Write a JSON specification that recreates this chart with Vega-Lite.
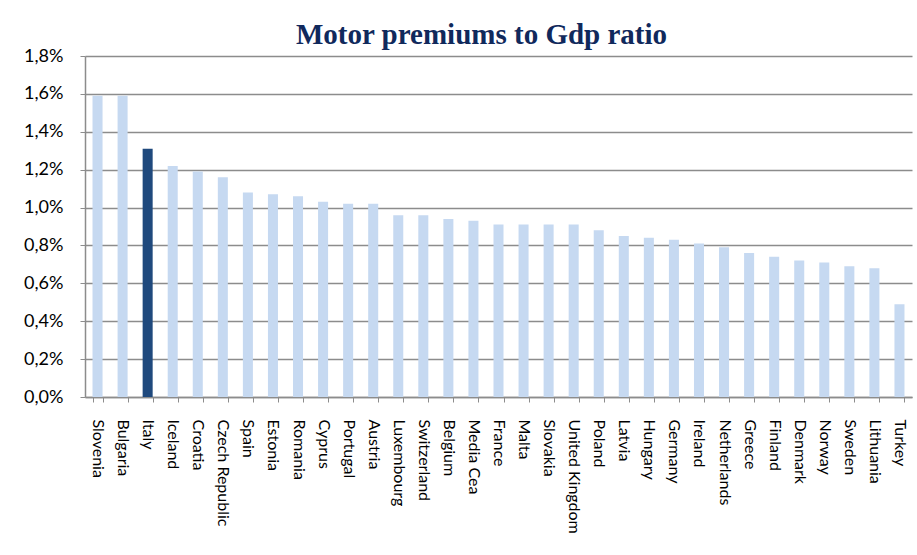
{
  "$schema": "https://vega.github.io/schema/vega-lite/v6.json",
  "autosize": "none",
  "width": 827,
  "height": 341,
  "padding": {"left": 85, "top": 56, "right": 5, "bottom": 158},
  "background": "white",
  "config": {
    "locale": {"number": {"decimal": ",", "thousands": ".", "grouping": [3], "currency": ["", " €"]}},
    "view": {"stroke": null}
  },
  "title": {
    "text": "Motor premiums to Gdp ratio",
    "font": "Liberation Serif",
    "fontSize": 29,
    "fontWeight": "bold",
    "color": "#10295c",
    "anchor": "middle",
    "dx": -17,
    "offset": -3
  },
  "data": {
    "values": [
      {"country": "Slovenia", "ratio": 0.0159},
      {"country": "Bulgaria", "ratio": 0.0159},
      {"country": "Italy", "ratio": 0.0131},
      {"country": "Iceland", "ratio": 0.0122},
      {"country": "Croatia", "ratio": 0.0119},
      {"country": "Czech Republic", "ratio": 0.0116},
      {"country": "Spain", "ratio": 0.0108},
      {"country": "Estonia", "ratio": 0.0107},
      {"country": "Romania", "ratio": 0.0106},
      {"country": "Cyprus", "ratio": 0.0103},
      {"country": "Portugal", "ratio": 0.0102},
      {"country": "Austria", "ratio": 0.0102},
      {"country": "Luxembourg", "ratio": 0.0096},
      {"country": "Switzerland", "ratio": 0.0096},
      {"country": "Belgium", "ratio": 0.0094},
      {"country": "Media Cea", "ratio": 0.0093},
      {"country": "France", "ratio": 0.0091},
      {"country": "Malta", "ratio": 0.0091},
      {"country": "Slovakia", "ratio": 0.0091},
      {"country": "United Kingdom", "ratio": 0.0091},
      {"country": "Poland", "ratio": 0.0088},
      {"country": "Latvia", "ratio": 0.0085},
      {"country": "Hungary", "ratio": 0.0084},
      {"country": "Germany", "ratio": 0.0083},
      {"country": "Ireland", "ratio": 0.0081},
      {"country": "Netherlands", "ratio": 0.0079},
      {"country": "Greece", "ratio": 0.0076},
      {"country": "Finland", "ratio": 0.0074},
      {"country": "Denmark", "ratio": 0.0072},
      {"country": "Norway", "ratio": 0.0071},
      {"country": "Sweden", "ratio": 0.0069},
      {"country": "Lithuania", "ratio": 0.0068},
      {"country": "Turkey", "ratio": 0.0049}
    ]
  },
  "mark": {"type": "bar"},
  "encoding": {
    "x": {
      "field": "country",
      "type": "nominal",
      "sort": null,
      "scale": {"paddingInner": 0.6, "paddingOuter": 0.3},
      "axis": {
        "title": null,
        "labelAngle": 90,
        "labelAlign": "left",
        "labelBaseline": "middle",
        "labelFont": "Lato",
        "labelFontSize": 16,
        "labelColor": "#000000",
        "labelPadding": 17,
        "tickBand": "extent",
        "tickSize": 5,
        "tickColor": "#8c8c8c",
        "domainColor": "#8c8c8c",
        "domainWidth": 1.5,
        "grid": false
      }
    },
    "y": {
      "field": "ratio",
      "type": "quantitative",
      "scale": {"domain": [0, 0.018], "nice": false},
      "axis": {
        "title": null,
        "values": [0, 0.002, 0.004, 0.006, 0.008, 0.01, 0.012, 0.014, 0.016, 0.018],
        "format": ".1%",
        "labelFont": "Lato",
        "labelFontSize": 18,
        "labelColor": "#000000",
        "labelPadding": 17,
        "tickSize": 5,
        "tickColor": "#8c8c8c",
        "domainColor": "#8c8c8c",
        "domainWidth": 1.5,
        "grid": true,
        "gridColor": "#8c8c8c",
        "gridWidth": 1.5
      }
    },
    "color": {
      "condition": {"test": "datum.country === 'Italy'", "value": "#1f497d"},
      "value": "#c6d9f1"
    }
  }
}
